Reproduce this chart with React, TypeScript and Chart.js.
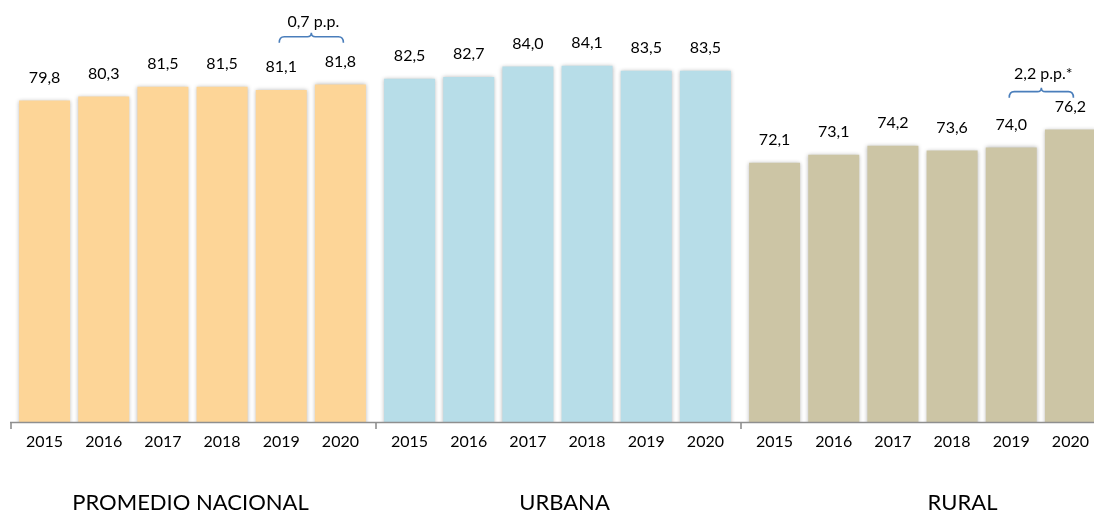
import { useEffect, useRef } from "react";
import { Chart, registerables } from "chart.js";

Chart.register(...registerables);

// ---- data ----
const years = ["2015", "2016", "2017", "2018", "2019", "2020"];
const groupNames = ["PROMEDIO NACIONAL", "URBANA", "RURAL"];
const nacionalValues = [79.8, 80.3, 81.5, 81.5, 81.1, 81.8];
const urbanaValues = [82.5, 82.7, 84.0, 84.1, 83.5, 83.5];
const ruralValues = [72.1, 73.1, 74.2, 73.6, 74.0, 76.2];
const groupValues = [nacionalValues, urbanaValues, ruralValues];
const bracketTexts = ["0,7 p.p.", null, "2,2 p.p.*"];
const bracketLevels = [87.7, null, 80.9];

// ---- styles ----
const groupColors = ["#FDD597", "#B7DDE8", "#CCC5A5"];
const titleOffsets = [-2, 7, 40];
const bracketTextGaps = [10, null, 13];
const FONT = "Lato, 'Noto Sans', sans-serif";
const GROUP_W = 365;
const H = 514;

const fmt = (v: number) => v.toFixed(1).replace(".", ",");

const shadowPlugin = {
  id: "barShadow",
  beforeDatasetsDraw(chart: any) {
    const ctx = chart.ctx;
    ctx.save();
    ctx.shadowColor = "rgba(0,0,0,0.28)";
    ctx.shadowBlur = 4;
    ctx.shadowOffsetX = 0;
    ctx.shadowOffsetY = 0;
  },
  afterDatasetsDraw(chart: any) {
    chart.ctx.restore();
  },
};

const decorPlugin = {
  id: "groupDecor",
  afterDraw(chart: any, _args: any, opts: any) {
    const g = opts.index as number;
    const ctx = chart.ctx as CanvasRenderingContext2D;
    const area = chart.chartArea;
    const meta = chart.getDatasetMeta(0);
    const yScale = chart.scales.y;
    ctx.save();
    // axis line
    ctx.strokeStyle = "#8f8f8f";
    ctx.lineWidth = 1.6;
    ctx.beginPath();
    ctx.moveTo(0, area.bottom + 0.5);
    ctx.lineTo(chart.width, area.bottom + 0.5);
    ctx.stroke();
    // group boundary tick
    ctx.beginPath();
    ctx.moveTo(1, area.bottom);
    ctx.lineTo(1, area.bottom + 7);
    ctx.stroke();

    // value labels
    ctx.fillStyle = "#000";
    ctx.font = `16px ${FONT}`;
    ctx.textAlign = "center";
    ctx.textBaseline = "middle";
    const vals = groupValues[g];
    meta.data.forEach((bar: any, i: number) => {
      ctx.fillText(fmt(vals[i]), bar.x, bar.y - 23);
    });

    // bracket
    const txt = bracketTexts[g];
    const lvl = bracketLevels[g];
    if (txt && lvl != null) {
      const x1 = meta.data[4].x - 2;
      const x2 = meta.data[5].x + 3;
      const mid = (x1 + x2) / 2;
      const yb = yScale.getPixelForValue(lvl);
      ctx.strokeStyle = "#4A7EBB";
      ctx.lineWidth = 1.6;
      ctx.beginPath();
      ctx.moveTo(x1, yb + 6);
      ctx.quadraticCurveTo(x1, yb, x1 + 5, yb);
      ctx.lineTo(mid - 4, yb);
      ctx.quadraticCurveTo(mid, yb, mid, yb - 4);
      ctx.quadraticCurveTo(mid, yb, mid + 4, yb);
      ctx.lineTo(x2 - 5, yb);
      ctx.quadraticCurveTo(x2, yb, x2, yb + 6);
      ctx.stroke();
      ctx.fillStyle = "#000";
      ctx.textBaseline = "alphabetic";
      ctx.fillText(txt, mid + 2, yb - (bracketTextGaps[g] || 12));
    }

    // group title
    ctx.fillStyle = "#000";
    ctx.font = `22px ${FONT}`;
    ctx.textAlign = "center";
    ctx.textBaseline = "middle";
    ctx.fillText(groupNames[g], chart.width / 2 + titleOffsets[g], 503);
    ctx.restore();
  },
};

function GroupChart({ index }: { index: number }) {
  const ref = useRef<HTMLCanvasElement>(null);
  useEffect(() => {
    if (!ref.current) return;
    const chart = new Chart(ref.current, {
      type: "bar",
      data: {
        labels: years,
        datasets: [
          {
            data: groupValues[index],
            backgroundColor: groupColors[index],
            borderWidth: 0,
            categoryPercentage: 1,
            barPercentage: 0.862,
          },
        ],
      },
      options: {
        animation: false,
        responsive: false,
        devicePixelRatio: 1,
        layout: { padding: { top: 2, left: 5, right: 5, bottom: 52.8 } },
        plugins: {
          legend: { display: false },
          tooltip: { enabled: false },
          groupDecor: { index },
        } as any,
        scales: {
          x: {
            grid: { display: false, drawTicks: false },
            border: { display: false },
            ticks: {
              padding: 10,
              color: "#000",
              font: { family: FONT, size: 16 },
              maxRotation: 0,
              autoSkip: false,
            },
          },
          y: {
            display: false,
            min: 40,
            max: 92,
          },
        },
      },
      plugins: [shadowPlugin, decorPlugin],
    });
    return () => chart.destroy();
  }, [index]);
  return (
    <canvas
      ref={ref}
      width={GROUP_W}
      height={H}
      style={{
        position: "absolute",
        left: 10 + GROUP_W * index,
        top: 0,
        width: GROUP_W,
        height: H,
      }}
    />
  );
}

export default function App() {
  useEffect(() => {
    document.body.style.margin = "0";
    document.body.style.overflow = "hidden";
  }, []);
  return (
    <div
      style={{
        position: "relative",
        width: 1094,
        height: H,
        overflow: "hidden",
        background: "#fff",
      }}
    >
      {groupNames.map((_, i) => (
        <GroupChart key={i} index={i} />
      ))}
    </div>
  );
}
